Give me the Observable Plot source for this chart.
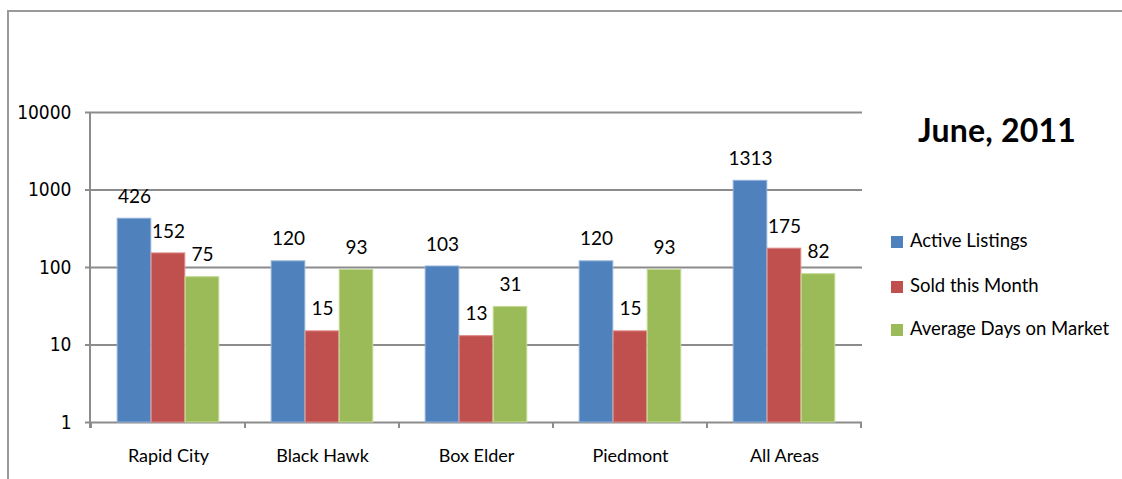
<!DOCTYPE html>
<html>
<head>
<meta charset="utf-8">
<script src="https://cdn.jsdelivr.net/npm/d3@7"></script>
<script src="https://cdn.jsdelivr.net/npm/@observablehq/plot@0.6"></script>
<style>
  html, body { margin: 0; padding: 0; background: #fff; }
  #wrap { position: relative; width: 1122px; height: 479px; overflow: hidden; font-family: Lato, "Open Sans", sans-serif; }
  #border { position: absolute; left: 7px; top: 10px; right: -10px; bottom: -10px; border-top: 2px solid #9a9a9a; border-left: 2px solid #9a9a9a; }
  #chart { position: absolute; left: 0; top: 0; }
  #title { position: absolute; left: 897px; width: 200px; top: 110px; text-align: center; font-weight: 700; font-size: 32px; line-height: 40px; color: #000; letter-spacing: 0.2px; }
  #legend { position: absolute; left: 891px; top: 0; }
  .lg { position: absolute; white-space: nowrap; font-size: 18.5px; line-height: 24px; color: #000; }
  .sw { display: inline-block; width: 12px; height: 12px; margin-right: 7px; vertical-align: -1px; }
</style>
</head>
<body>
<div id="wrap">
  <div id="border"></div>
  <div id="chart"></div>
  <div id="title">June, 2011</div>
  <div id="legend"></div>
</div>
<script>
const areas = ["Rapid City", "Black Hawk", "Box Elder", "Piedmont", "All Areas"];
const seriesNames = ["Active Listings", "Sold this Month", "Average Days on Market"];
const activeListings = [426, 120, 103, 120, 1313];
const soldThisMonth = [152, 15, 13, 15, 175];
const avgDaysOnMarket = [75, 93, 31, 93, 82];
const yTicks = [1, 10, 100, 1000, 10000];
const colors = ["#4F81BD", "#C0504D", "#9BBB59"];
const edgeColors = ["#8fb0da", "#e08a88", "#c3da95"];

const seriesValues = [activeListings, soldThisMonth, avgDaysOnMarket];
const tables = seriesValues.map((vals, s) => areas.map((a, i) => ({area: a, value: vals[i], series: seriesNames[s]})));

const W = 1122, H = 479;
const mL = 90, mR = 260, mT = 112, mB = 57;
const barW = 34;
const bandW = (W - mL - mR) / areas.length;
const inset = (bandW - barW) / 2;
const offsets = [-barW, 0, barW];

const gray = "#8c8c8c";

// axis lines and category-boundary ticks, drawn from the x band scale
function axisFrame(index, scales, values, dimensions) {
  let sc = scales, dims = dimensions;
  if (!(sc && sc.x)) { sc = index; dims = scales; }
  const x = sc.x;
  const bw = typeof x.bandwidth === "function" ? x.bandwidth() : bandW;
  const {marginLeft, marginTop, height, marginBottom} = dims;
  const yb = height - marginBottom;
  const g = d3.create("svg:g").attr("stroke", gray).attr("stroke-width", 2).attr("fill", "none");
  const edges = areas.map(a => x(a)).concat([x(areas[areas.length - 1]) + bw]);
  g.selectAll("line.t").data(edges).join("line")
    .attr("x1", d => d).attr("x2", d => d).attr("y1", yb).attr("y2", yb + 6);
  g.append("line").attr("x1", marginLeft).attr("x2", marginLeft).attr("y1", marginTop).attr("y2", yb + 6);
  return g.node();
}

const marks = [
  Plot.ruleY(yTicks, {y: d => d, stroke: gray, strokeWidth: 2}),
  Plot.axisY({ticks: yTicks, tickFormat: d => String(d), tickSize: 5, tickPadding: 14, stroke: gray, strokeWidth: 2,
    fontSize: 19, fontFamily: "'Liberation Sans Narrow', 'Arial Narrow', 'DejaVu Sans Condensed', sans-serif", fill: "#000"}),
  Plot.axisX({tickSize: 0, tickPadding: 27, fontSize: 18, fontFamily: "Lato, sans-serif", fill: "#000"})
];
tables.forEach((t, s) => {
  marks.push(Plot.barY(t, {x: "area", y1: 1, y2: "value", fill: colors[s], stroke: edgeColors[s], strokeWidth: 1,
    insetLeft: inset, insetRight: inset, dx: offsets[s]}));
});
marks.push(axisFrame);
tables.forEach((t, s) => {
  marks.push(Plot.text(t, {x: "area", y: "value", text: d => String(d.value), dx: offsets[s], dy: -22,
    lineAnchor: "middle", textAnchor: "middle", fontSize: 19, fontFamily: "Lato, sans-serif", fill: "#000"}));
});

const chart = Plot.plot({
  width: W, height: H,
  marginLeft: mL, marginRight: mR, marginTop: mT, marginBottom: mB,
  style: {background: "transparent", fontFamily: "Lato, sans-serif", overflow: "visible"},
  x: {domain: areas, padding: 0, label: null},
  y: {type: "log", domain: [1, 10000], label: null},
  marks
});
document.getElementById("chart").appendChild(chart);

const legend = document.getElementById("legend");
const rowY = [240, 285, 328];
seriesNames.forEach((n, i) => {
  const d = document.createElement("div");
  d.className = "lg";
  d.style.top = (rowY[i] - 12) + "px";
  d.innerHTML = `<span class="sw" style="background:${colors[i]}"></span>${n}`;
  legend.appendChild(d);
});
</script>
</body>
</html>
